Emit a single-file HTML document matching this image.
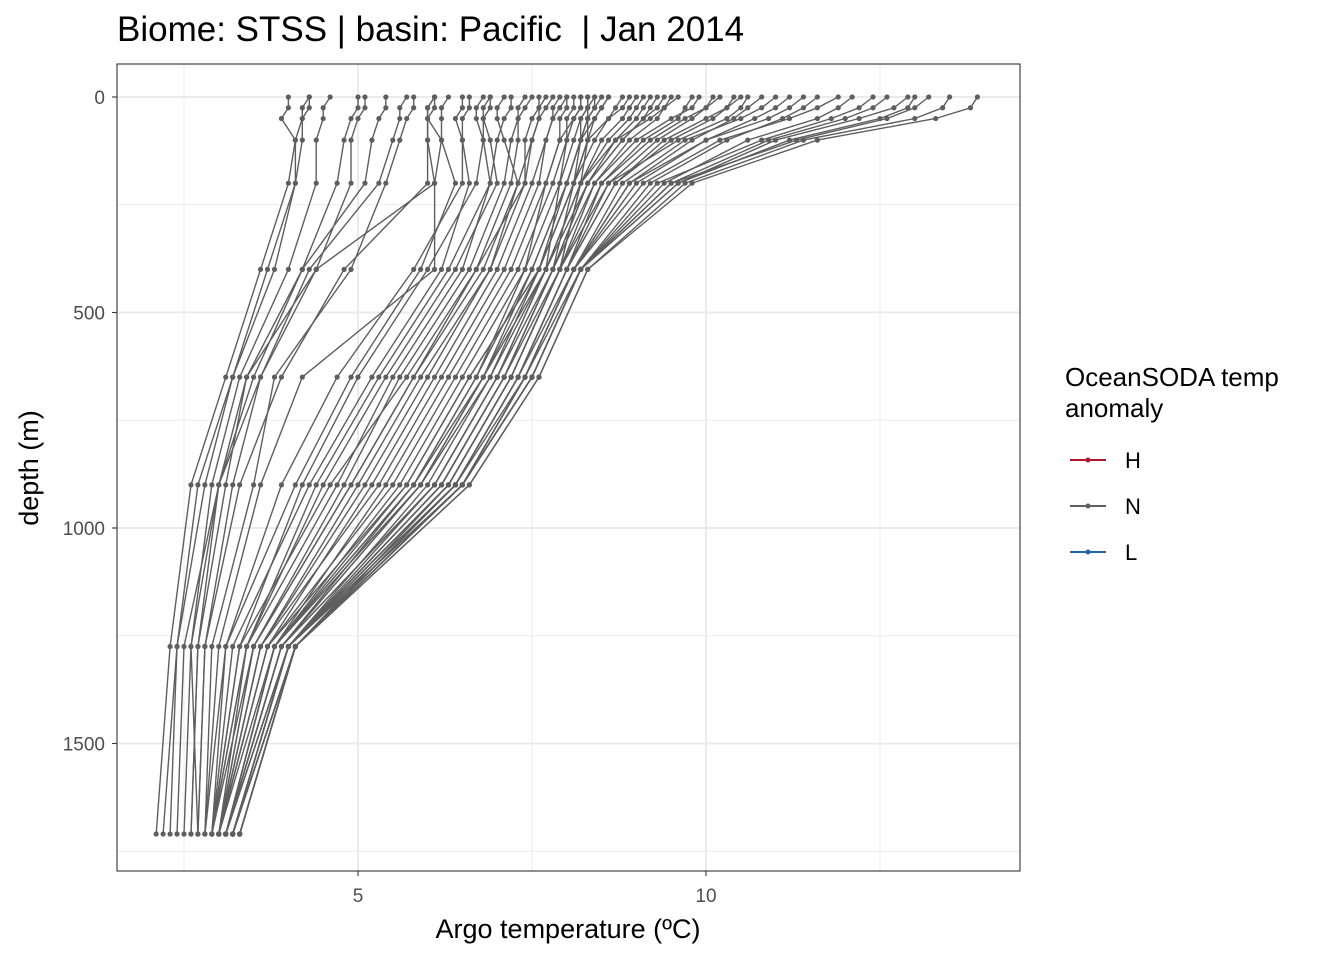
<!DOCTYPE html>
<html><head><meta charset="utf-8"><style>
body{margin:0;background:#fff;font-family:"Liberation Sans",sans-serif}
svg text{font-family:"Liberation Sans",sans-serif}
</style></head><body>
<svg id="chart" width="1344" height="960" xmlns="http://www.w3.org/2000/svg">
<rect width="1344" height="960" fill="#fff"/>
<text x="117" y="41" font-size="35" fill="#000" xml:space="preserve">Biome: STSS | basin: Pacific  | Jan 2014</text>
<rect x="117" y="64" width="903" height="807" fill="#fff"/>
<g id="grid"></g>
<g id="series"></g>
<rect x="117" y="64" width="903" height="807" fill="none" stroke="#333" stroke-width="1.1"/>
<g id="axes"></g>
<text x="568" y="938" font-size="27" text-anchor="middle">Argo temperature (ºC)</text>
<text transform="translate(38,468) rotate(-90)" font-size="27" text-anchor="middle">depth (m)</text>
<g>
<text x="1065" y="386" font-size="26">OceanSODA temp</text>
<text x="1065" y="417" font-size="26">anomaly</text>
<g><line x1="1070" x2="1106" y1="460" y2="460" stroke="#b2182b" stroke-width="2"/><circle cx="1088" cy="460" r="2.5" fill="#b2182b"/><text x="1125" y="468" font-size="22">H</text></g>
<g><line x1="1070" x2="1106" y1="506" y2="506" stroke="#5e5e5e" stroke-width="2"/><circle cx="1088" cy="506" r="2.5" fill="#5e5e5e"/><text x="1125" y="514" font-size="22">N</text></g>
<g><line x1="1070" x2="1106" y1="552" y2="552" stroke="#2166ac" stroke-width="2"/><circle cx="1088" cy="552" r="2.5" fill="#2166ac"/><text x="1125" y="560" font-size="22">L</text></g>
</g>
</svg>
<script>
const depths=[0,25,50,100,200,400,650,900,1275,1710];
const profiles=[
[4.0,4.0,3.9,4.1,4.0,3.6,3.1,2.6,2.3,2.1],
[4.3,4.3,4.2,4.2,4.1,3.7,3.2,2.7,2.4,2.3],
[4.6,4.5,4.5,4.4,4.4,4.0,3.3,2.9,2.6,2.5],
[5.0,5.0,4.9,4.8,4.7,4.2,3.4,3.1,2.7,2.6],
[5.4,5.4,5.3,5.2,5.1,4.2,3.5,3.0,2.6,2.7],
[5.8,5.8,5.7,5.6,5.4,4.9,3.8,3.5,2.9,2.8],
[6.1,6.1,6.0,6.0,6.1,4.4,3.6,3.2,2.8,2.7],
[6.1,6.0,6.0,6.2,6.1,6.1,4.2,3.6,3.0,2.8],
[6.6,6.6,6.5,6.5,6.5,5.8,4.7,3.9,3.1,2.9],
[6.9,6.9,6.8,6.8,6.7,6.0,5.0,4.2,3.3,2.9],
[7.2,7.2,7.1,7.0,6.9,6.3,5.3,4.4,3.4,2.9],
[7.5,7.4,7.3,7.2,7.1,6.6,5.6,4.8,3.5,3.0],
[7.8,7.7,7.6,7.5,7.3,6.9,5.9,5.0,3.6,3.0],
[8.0,7.9,7.8,7.7,7.5,7.0,6.1,5.2,3.7,3.0],
[8.2,8.2,8.1,7.9,7.7,7.2,6.3,5.4,3.8,3.1],
[8.4,8.3,8.2,8.1,7.9,7.4,6.5,5.6,3.8,3.1],
[8.6,8.5,8.4,8.2,8.0,7.5,6.7,5.8,3.9,3.1],
[8.8,8.7,8.6,8.4,8.1,7.6,6.8,5.9,3.9,3.1],
[9.0,8.9,8.8,8.5,8.2,7.7,6.9,6.0,4.0,3.1],
[9.2,9.1,9.0,8.7,8.3,7.8,7.0,6.1,4.0,3.2],
[9.5,9.4,9.3,8.9,8.4,7.8,7.1,6.2,4.0,3.2],
[9.8,9.7,9.6,9.1,8.5,7.9,7.2,6.3,4.1,3.2],
[10.1,10.0,9.8,9.3,8.6,8.0,7.3,6.4,4.1,3.2],
[10.4,10.3,10.1,9.5,8.7,8.0,7.3,6.4,4.1,3.2],
[10.8,10.6,10.4,9.8,8.9,8.1,7.4,6.5,4.1,3.2],
[11.2,11.0,10.7,10.0,9.0,8.1,7.4,6.5,4.1,3.3],
[11.6,11.4,11.1,10.3,9.2,8.2,7.5,6.5,4.1,3.3],
[12.1,11.9,11.6,10.6,9.4,8.2,7.5,6.5,4.1,3.3],
[12.6,12.4,12.0,10.9,9.5,8.2,7.5,6.5,4.1,3.3],
[13.0,12.9,12.5,11.2,9.6,8.2,7.5,6.5,4.1,3.3],
[13.5,13.4,13.0,11.4,9.7,8.3,7.6,6.6,4.1,3.3],
[13.9,13.8,13.3,11.6,9.8,8.3,7.6,6.6,4.1,3.3],
[8.3,8.3,8.3,8.3,8.2,7.9,7.2,6.3,4.0,3.2],
[8.3,8.3,8.2,8.2,8.1,7.6,6.6,5.7,3.8,3.1],
[7.1,7.0,7.0,7.1,7.3,6.8,5.8,4.9,3.5,3.0],
[6.8,6.7,6.7,6.8,6.9,6.5,5.5,4.7,3.4,3.0],
[9.3,9.2,9.1,8.8,8.3,7.7,6.8,5.9,3.9,3.1],
[10.6,10.5,10.3,9.6,8.6,7.9,7.1,6.2,4.0,3.2],
[7.7,7.6,7.6,7.5,7.4,6.7,5.7,4.6,3.3,2.9],
[5.1,5.1,5.0,4.9,4.9,4.4,3.4,3.0,2.7,2.6],
[8.1,8.1,8.0,8.0,7.9,7.7,7.0,6.1,3.9,3.1],
[8.5,8.4,8.3,8.2,8.0,7.6,6.9,5.9,3.8,3.0],
[8.9,8.8,8.6,8.3,8.1,7.8,7.1,6.2,4.0,3.1],
[9.6,9.4,9.2,8.7,8.2,7.9,7.2,6.3,4.0,3.2],
[10.2,10.0,9.7,9.2,8.5,8.0,7.3,6.4,4.1,3.2],
[11.0,10.8,10.5,9.7,8.8,8.1,7.3,6.4,4.1,3.2],
[11.9,11.6,11.2,10.2,9.1,8.1,7.4,6.4,4.0,3.2],
[12.4,12.2,11.8,10.8,9.3,8.2,7.4,6.5,4.0,3.2],
[13.2,13.0,12.6,11.3,9.5,8.2,7.5,6.5,4.1,3.3],
[8.2,8.2,8.1,8.0,7.8,7.3,6.4,5.5,3.7,3.0],
[7.9,7.8,7.8,7.7,7.6,7.1,6.2,5.3,3.6,3.0],
[7.4,7.3,7.3,7.3,7.2,6.7,5.8,4.9,3.5,2.9],
[6.9,6.8,6.8,6.9,7.0,6.4,5.4,4.5,3.4,2.9],
[6.5,6.5,6.4,6.5,6.6,6.2,5.2,4.3,3.2,2.9],
[6.3,6.2,6.2,6.2,6.4,5.9,4.9,4.1,3.1,2.8],
[8.4,8.4,8.3,8.2,8.0,7.5,6.8,5.8,3.8,3.1],
[9.1,9.0,8.9,8.6,8.2,7.7,7.0,6.1,3.9,3.1],
[9.9,9.8,9.5,9.0,8.4,7.9,7.2,6.3,4.0,3.2],
[10.5,10.3,10.0,9.4,8.7,8.0,7.3,6.4,4.0,3.2],
[8.6,8.5,8.4,8.3,8.1,7.6,6.6,5.7,3.7,3.0],
[7.6,7.6,7.5,7.4,7.4,6.9,6.0,5.1,3.6,3.0],
[8.0,8.0,7.9,7.9,7.7,7.4,6.7,5.8,3.8,3.1],
[9.4,9.3,9.1,8.8,8.3,7.8,7.1,6.2,4.0,3.1],
[11.4,11.2,10.9,10.0,8.9,8.1,7.4,6.5,4.1,3.2],
[12.9,12.7,12.2,11.0,9.6,8.2,7.5,6.5,4.1,3.3],
[4.3,4.2,4.2,4.1,4.1,3.8,3.2,2.8,2.4,2.2],
[5.7,5.6,5.6,5.5,5.3,4.3,3.6,3.0,2.5,2.4],
[6.1,6.0,6.0,6.0,6.0,4.8,3.9,3.3,2.8,2.7]
];
const X0=117,X1=1020,Y0=64,Y1=871;
const xs=t=>10+69.6*t;
const ys=d=>97+0.431*d;
const NS="http://www.w3.org/2000/svg";
const grid=document.getElementById('grid'),ser=document.getElementById('series'),ax=document.getElementById('axes');
function mk(tag,attrs,parent){const e=document.createElementNS(NS,tag);for(const k in attrs)e.setAttribute(k,attrs[k]);parent.appendChild(e);return e;}
[2.5,7.5,12.5].forEach(v=>{const l=mk('line',{x1:xs(v),x2:xs(v),y1:Y0,y2:Y1,stroke:'#ebebeb','stroke-width':1},grid);

});
[250,750,1250,1750].forEach(v=>{const l=mk('line',{x1:X0,x2:X1,y1:ys(v),y2:ys(v),stroke:'#ebebeb','stroke-width':1},grid);

});
[5,10].forEach(v=>{const l=mk('line',{x1:xs(v),x2:xs(v),y1:Y0,y2:Y1,stroke:'#ebebeb','stroke-width':2},grid);


const t=mk('line',{x1:xs(v),x2:xs(v),y1:Y1,y2:Y1+5,stroke:'#333','stroke-width':1.1},ax);


const tx=mk('text',{x:xs(v),y:Y1+31,'font-size':19,fill:'#4d4d4d','text-anchor':'middle'},ax);tx.textContent=v;

});
[0,500,1000,1500].forEach(v=>{const l=mk('line',{x1:X0,x2:X1,y1:ys(v),y2:ys(v),stroke:'#ebebeb','stroke-width':2},grid);


const t=mk('line',{x1:X0-5,x2:X0,y1:ys(v),y2:ys(v),stroke:'#333','stroke-width':1.1},ax);


const tx=mk('text',{x:X0-12,y:ys(v)+7,'font-size':19,fill:'#4d4d4d','text-anchor':'end'},ax);tx.textContent=v;

});
profiles.forEach(p=>{
const pts=p.map((t,j)=>xs(t).toFixed(1)+','+ys(depths[j]).toFixed(1)).join(' ');
const pl=mk('polyline',{points:pts,fill:'none',stroke:'#5e5e5e','stroke-width':1.4},ser);


p.forEach((t,j)=>{const c=mk('circle',{cx:xs(t),cy:ys(depths[j]),r:2.6,fill:'#5e5e5e'},ser);

});
});
</script>
</body></html>
